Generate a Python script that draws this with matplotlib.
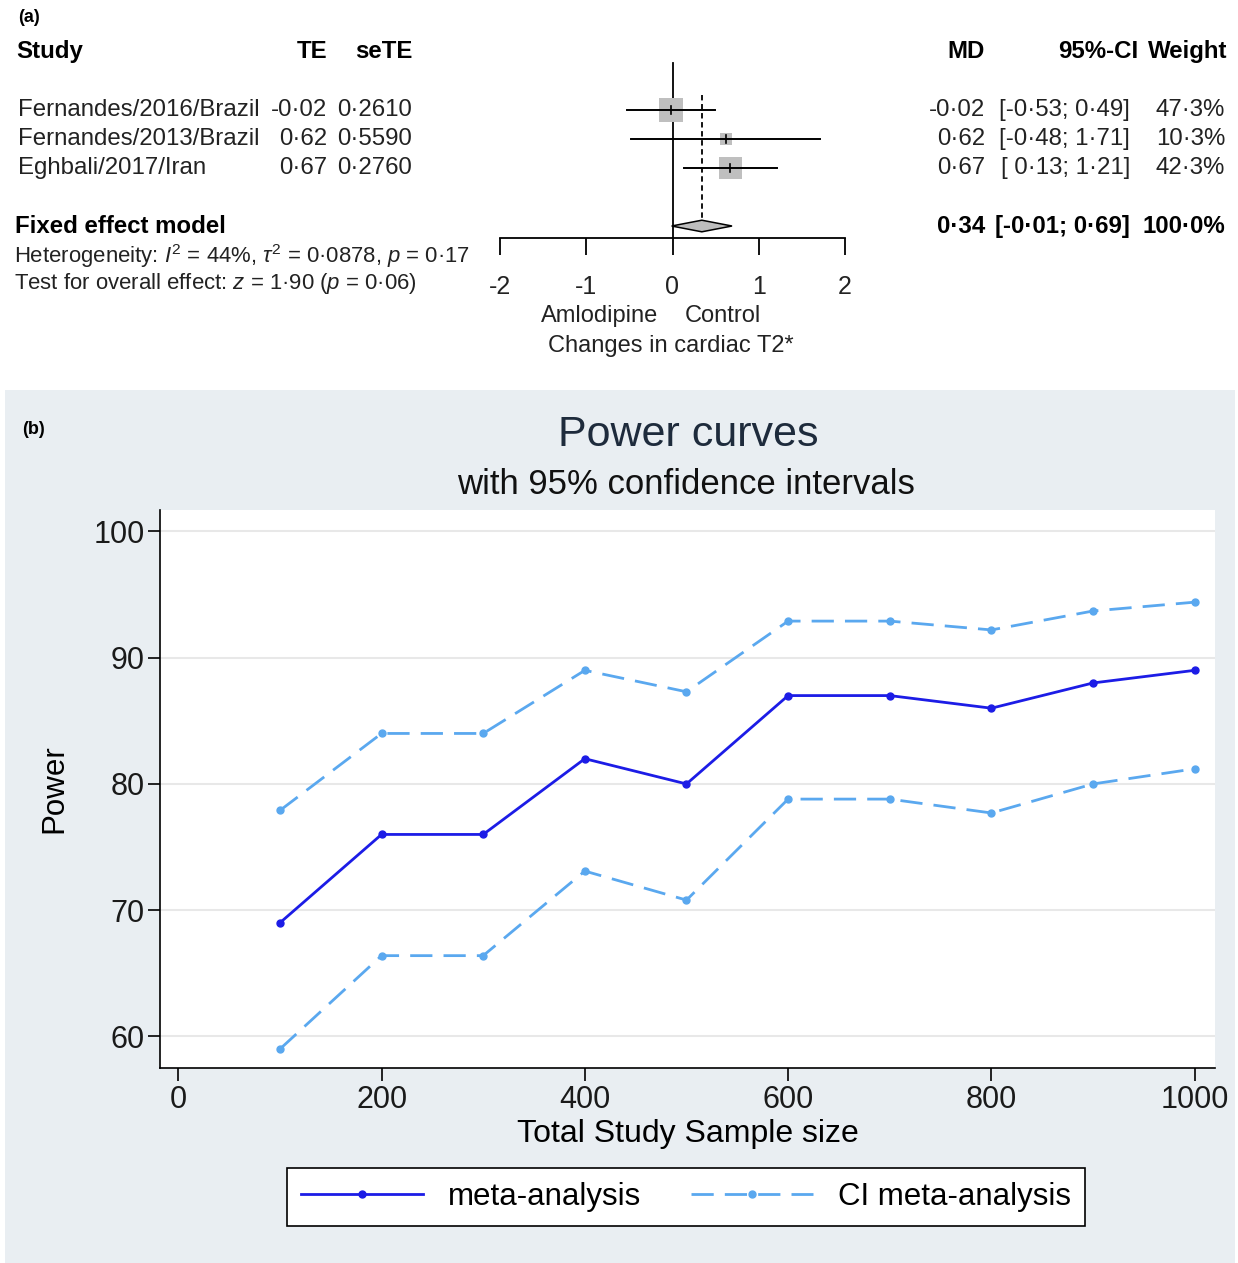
import numpy as np
import matplotlib
matplotlib.use("Agg")
import matplotlib.pyplot as plt
from matplotlib.patches import Rectangle

plt.rcParams['font.family'] = ['Liberation Sans', 'DejaVu Sans']
plt.rcParams['axes.unicode_minus'] = False
plt.rcParams['mathtext.fontset'] = 'custom'
plt.rcParams['mathtext.rm'] = 'Liberation Sans'
plt.rcParams['mathtext.it'] = 'Liberation Sans:italic'

# ---- panel (a) data: forest plot
studies = ["Fernandes/2016/Brazil", "Fernandes/2013/Brazil", "Eghbali/2017/Iran"]
te = [-0.02, 0.62, 0.67]
se_te = [0.2610, 0.5590, 0.2760]
ci_lo = [-0.53, -0.48, 0.13]
ci_hi = [0.49, 1.71, 1.21]
weights = [47.3, 10.3, 42.3]
fixed_md = 0.34
fixed_lo = -0.01
fixed_hi = 0.69
fixed_weight = 100.0
md_ticks = [-2, -1, 0, 1, 2]

# ---- panel (b) data: power curves
sample_size = [100, 200, 300, 400, 500, 600, 700, 800, 900, 1000]
power = [69, 76, 76, 82, 80, 87, 87, 86, 88, 89]
ci_upper = [77.9, 84, 84, 89, 87.3, 92.9, 92.9, 92.2, 93.7, 94.4]
ci_lower = [59.0, 66.4, 66.4, 73.1, 70.8, 78.8, 78.8, 77.7, 80.0, 81.2]


def fmt(v, nd=2):
    return f"{v:.{nd}f}".replace('.', '\u00b7')


def fmt_ci(lo, hi):
    return f"[{fmt(lo):>5}; {fmt(hi)}]"


W, H = 1238, 1263
fig = plt.figure(figsize=(W / 100, H / 100), dpi=100)
fig.patch.set_facecolor('white')

# ---------------- panel (a) ----------------
top_h = 385 / H
ylim_rows = (10.48, -2.79)   # row units: row r sits at 110 + (r-1)*29 px

ax_t = fig.add_axes([0, 1 - top_h, 1, top_h])
ax_t.set_xlim(0, W)
ax_t.set_ylim(*ylim_rows)
ax_t.axis('off')

fs = 17.3
tc = '#222222'
ax_t.text(18, -2.17, "(a)", fontsize=13, fontweight='bold', va='center')
ax_t.text(16, -1, "Study", fontsize=fs, fontweight='bold', va='center')
ax_t.text(327, -1, "TE", fontsize=fs, fontweight='bold', va='center', ha='right')
ax_t.text(412, -1, "seTE", fontsize=fs, fontweight='bold', va='center', ha='right')
ax_t.text(985, -1, "MD", fontsize=fs, fontweight='bold', va='center', ha='right')
ax_t.text(1138, -1, "95%-CI", fontsize=fs, fontweight='bold', va='center', ha='right')
ax_t.text(1227, -1, "Weight", fontsize=fs, fontweight='bold', va='center', ha='right')

for i, name in enumerate(studies):
    r = i + 1
    ax_t.text(18, r, name, fontsize=fs, va='center', color=tc)
    ax_t.text(327, r, fmt(te[i]), fontsize=fs, va='center', ha='right', color=tc)
    ax_t.text(412, r, fmt(se_te[i], 4), fontsize=fs, va='center', ha='right', color=tc)
    ax_t.text(985, r, fmt(te[i]), fontsize=fs, va='center', ha='right', color=tc)
    ax_t.text(1130, r, fmt_ci(ci_lo[i], ci_hi[i]), fontsize=fs, va='center', ha='right', color=tc)
    ax_t.text(1225, r, fmt(weights[i], 1) + "%", fontsize=fs, va='center', ha='right', color=tc)

ax_t.text(15, 5, "Fixed effect model", fontsize=fs, fontweight='bold', va='center')
ax_t.text(985, 5, fmt(fixed_md), fontsize=fs, fontweight='bold', va='center', ha='right')
ax_t.text(1130, 5, fmt_ci(fixed_lo, fixed_hi), fontsize=fs, fontweight='bold', va='center', ha='right')
ax_t.text(1225, 5, fmt(fixed_weight, 1) + "%", fontsize=fs, fontweight='bold', va='center', ha='right')

ax_t.text(14, 6.05, "Heterogeneity: $I^2$ = 44%, $\\tau^2$ = 0\u00b70878, $p$ = 0\u00b717",
          fontsize=15.9, va='center', color=tc)
ax_t.text(14, 6.97, "Test for overall effect: $z$ = 1\u00b790 ($p$ = 0\u00b706)",
          fontsize=15.9, va='center', color=tc)

# forest graphic
ax_f = fig.add_axes([500 / W, 1 - top_h, 345 / W, top_h])
ax_f.set_xlim(md_ticks[0], md_ticks[-1])
ax_f.set_ylim(*ylim_rows)
ax_f.patch.set_alpha(0)
for s in ['top', 'right', 'left']:
    ax_f.spines[s].set_visible(False)
ax_f.spines['bottom'].set_position(('data', 5.41))
ax_f.spines['bottom'].set_linewidth(1.3)
ax_f.set_yticks([])
ax_f.set_xticks(md_ticks)
ax_f.tick_params(axis='x', direction='out', length=12, width=1.3, labelsize=18,
                 pad=15, labelcolor=tc)

px_x = (md_ticks[-1] - md_ticks[0]) / 345.0   # data units per pixel
px_y = 1 / 29.0
ax_f.plot([0, 0], [-0.62, 5.41], color='black', lw=1.3)
ax_f.plot([fixed_md, fixed_md], [0.48, 4.8], color='black', lw=1.3, ls=(0, (3, 2)))
for i in range(len(studies)):
    r = i + 1
    side = 24 * np.sqrt(weights[i] / max(weights))
    ax_f.add_patch(Rectangle((te[i] - side / 2 * px_x, r - side / 2 * px_y),
                             side * px_x, side * px_y, color='#bfbfbf', lw=0, zorder=2))
    ax_f.plot([ci_lo[i], ci_hi[i]], [r, r], color='black', lw=1.4, zorder=3)
    ax_f.plot([te[i], te[i]], [r - 0.15, r + 0.15], color='black', lw=1.2, zorder=3)
ax_f.fill([fixed_lo, fixed_md, fixed_hi, fixed_md], [5, 4.8, 5, 5.2],
          facecolor='#bdbdbd', edgecolor='black', lw=1.1, zorder=3)
ax_f.text(-0.84, 8.1, "Amlodipine", fontsize=17, ha='center', va='center', color=tc)
ax_f.text(0.58, 8.1, "Control", fontsize=17, ha='center', va='center', color=tc)
ax_f.text(-0.02, 9.12, "Changes in cardiac T2*", fontsize=17, ha='center', va='center', color=tc)

# ---------------- panel (b) ----------------
fig.patches.append(Rectangle((5 / W, 0), 1230 / W, (H - 390) / H,
                             transform=fig.transFigure, facecolor='#e9eef2',
                             edgecolor='none', zorder=-5))
fig.text(22 / W, 1 - 430 / H, "(b)", fontsize=13, fontweight='bold', va='center')
fig.text(688 / W, 1 - 435 / H, "Power curves", fontsize=31, color='#1e2b3c',
         ha='center', va='center')
fig.text(686 / W, 1 - 485 / H, "with 95% confidence intervals", fontsize=25,
         color='#111111', ha='center', va='center')

ax = fig.add_axes([160 / W, 1 - 1068 / H, 1055 / W, (1068 - 510) / H])
ax.set_facecolor('white')
ax.plot(sample_size, ci_upper, color='#5aa8ef', lw=2, ls=(0, (8, 4)), marker='o',
        markersize=5, label='CI meta-analysis', zorder=3)
ax.plot(sample_size, ci_lower, color='#5aa8ef', lw=2, ls=(0, (8, 4)), marker='o',
        markersize=5, zorder=3)
ax.plot(sample_size, power, color='#1c1ce6', lw=2, marker='o', markersize=5,
        label='meta-analysis', zorder=4)
ax.set_xlim(-18, 1020)
ax.set_ylim(57.5, 101.7)
ax.set_xticks([0, 200, 400, 600, 800, 1000])
ax.set_yticks([60, 70, 80, 90, 100])
ax.grid(axis='y', color='#e8e8e8', lw=1.5)
ax.set_axisbelow(True)
for s in ['top', 'right']:
    ax.spines[s].set_visible(False)
ax.spines['left'].set_linewidth(1.2)
ax.spines['bottom'].set_linewidth(1.2)
ax.tick_params(axis='both', labelsize=22, width=1.2, length=9, labelcolor='#1a1a1a')
ax.tick_params(axis='y', pad=2)
ax.tick_params(axis='x', pad=3)
ax.set_ylabel("Power", fontsize=22.5, labelpad=17)
ax.set_xlabel("Total Study Sample size", fontsize=23, labelpad=3)

handles, labels = ax.get_legend_handles_labels()
leg = ax.legend(handles[::-1], labels[::-1], loc='center', ncol=2,
                bbox_to_anchor=(686 / W, 1 - 1197 / H), bbox_transform=fig.transFigure,
                fontsize=22.5, frameon=True, fancybox=False, edgecolor='black',
                framealpha=1, handlelength=3.9, columnspacing=1.6, borderpad=0.45,
                handletextpad=0.8)
leg.get_frame().set_linewidth(1.2)

fig.savefig("out.png", dpi=100, facecolor='white')
